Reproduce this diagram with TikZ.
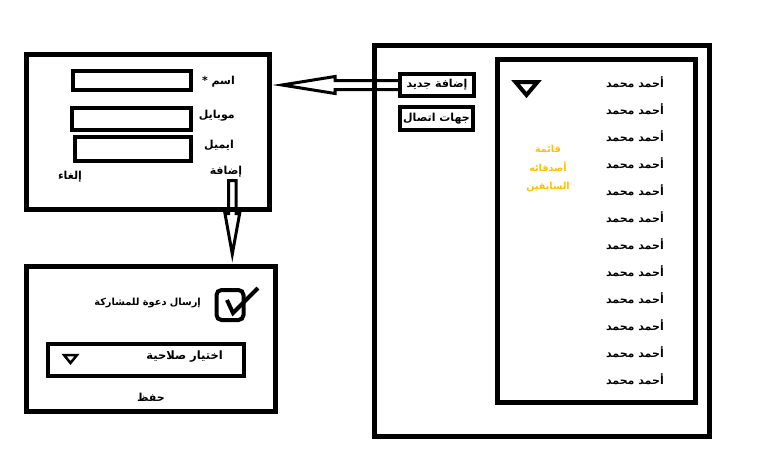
\documentclass[tikz,border=0pt]{standalone}
\usepackage{fontspec}
\newfontfamily\arabicfont[Script=Arabic]{DejaVu Sans}
\TeXXeTstate=1
\usetikzlibrary{arrows.meta,calc,positioning}
\definecolor{gold}{RGB}{255,192,0}
\newcommand\rtl[1]{\beginR#1\endR}
\tikzset{
  box/.style={draw, line width=5pt, inner sep=0pt},
  field/.style={draw, line width=4pt, inner sep=0pt},
  btn/.style={draw, line width=4pt, inner sep=0pt, font=\arabicfont\bfseries\fontsize{11}{12}\selectfont},
  lbl/.style={inner sep=0pt, font=\arabicfont\bfseries\fontsize{11}{12}\selectfont},
  hollow/.style={line width=3pt, line join=miter},
}

\begin{document}
\begin{tikzpicture}[x=1pt, y=-1pt]
  \useasboundingbox (0,0) rectangle (774,466);

  \newcommand\Gap{27};

  % new contact form
  \node[box, minimum width=242.5pt, minimum height=155pt] (form) at (147.75,131.5) {};
  \node[field, minimum width=118pt, minimum height=19pt] (fname) at (132,80.5) {};
  \node[field, minimum width=119pt, minimum height=22pt] (fmobile) at (131.5,119) {};
  \node[field, minimum width=116pt, minimum height=24pt] (femail) at (133,149) {};
  \node[lbl, anchor=east] (lname) at (235,82) {\rtl{اسم *}};
  \node[lbl, anchor=east] (lmobile) at (235,116) {\rtl{موبايل}};
  \node[lbl, anchor=east] (lemail) at (234,145) {\rtl{ايميل}};
  \node[lbl] (add) at (226,172) {\rtl{إضافة}};
  \node[lbl] (cancel) at (70,177) {\rtl{إلغاء}};

  % invite form
  \node[box, minimum width=248.5pt, minimum height=145pt] (invite) at (150.75,339) {};
  \node[draw, line width=4pt, rounded corners=5pt, inner sep=0pt,
        minimum width=27pt, minimum height=30pt] (chk) at (230,305) {};
  \draw[line width=4pt] ($(chk.center)+(-3,-5)$)--($(chk.center)+(3,8)$)--($(chk.center)+(28,-17)$);
  \node[lbl, anchor=east, font=\arabicfont\bfseries\fontsize{9.8}{12}\selectfont] (invtxt) at (201,303) {\rtl{إرسال دعوة للمشاركة}};
  \node[field, minimum width=196pt, minimum height=32pt] (role) at (146,359.5) {};
  \draw[line width=2.5pt, line join=miter]
    ($(role.west)+(18,-4.5)$)--($(role.west)+(31,-4.5)$)--($(role.west)+(24.5,3.5)$)--cycle;
  \node[lbl, anchor=east, font=\arabicfont\bfseries\fontsize{11.5}{12}\selectfont] (roletxt) at (223,357) {\rtl{اختيار صلاحية}};
  \node[lbl] (save) at (151,397) {\rtl{حفظ}};

  % contacts screen
  \node[box, minimum width=335pt, minimum height=391pt] (panel) at (542,240.5) {};
  \node[box, minimum width=198pt, minimum height=343pt] (list) at (596,230.5) {};
  \node[btn, minimum width=74pt, minimum height=22pt] (newc) at (437,85) {\rtl{إضافة جديد}};
  \node[btn, minimum width=73pt, minimum height=23pt] (contacts) at (436.5,118.5) {\rtl{جهات اتصال}};
  \draw[line width=4pt, line join=miter]
    ($(list.north west)+(21,25.5)$)--($(list.north west)+(43,25.5)$)--($(list.north west)+(32,38.5)$)--cycle;
  \node[lbl, text=gold, align=center, font=\arabicfont\bfseries\fontsize{9.6}{18.5}\selectfont]
    (prev) at (548,169) {\rtl{قائمة}\\\rtl{أصدقائه}\\\rtl{السابقين}};

  \node[lbl, anchor=east] (n1) at (664, 82+0*\Gap) {\rtl{أحمد محمد}};
  \node[lbl, anchor=east] (n2) at (664, 82+1*\Gap) {\rtl{أحمد محمد}};
  \node[lbl, anchor=east] (n3) at (664, 82+2*\Gap) {\rtl{أحمد محمد}};
  \node[lbl, anchor=east] (n4) at (664, 82+3*\Gap) {\rtl{أحمد محمد}};
  \node[lbl, anchor=east] (n5) at (664, 82+4*\Gap) {\rtl{أحمد محمد}};
  \node[lbl, anchor=east] (n6) at (664, 82+5*\Gap) {\rtl{أحمد محمد}};
  \node[lbl, anchor=east] (n7) at (664, 82+6*\Gap) {\rtl{أحمد محمد}};
  \node[lbl, anchor=east] (n8) at (664, 82+7*\Gap) {\rtl{أحمد محمد}};
  \node[lbl, anchor=east] (n9) at (664, 82+8*\Gap) {\rtl{أحمد محمد}};
  \node[lbl, anchor=east] (n10) at (664, 82+9*\Gap) {\rtl{أحمد محمد}};
  \node[lbl, anchor=east] (n11) at (664, 82+10*\Gap) {\rtl{أحمد محمد}};
  \node[lbl, anchor=east] (n12) at (664, 82+11*\Gap) {\rtl{أحمد محمد}};

  % hollow arrows
  \coordinate (tipl) at ($(form.east |- newc.west)+(10.5,0)$);
  \draw[hollow] ($(newc.west)+(0,-4.5)$)--($(tipl)+(53,-4.5)$)--++(0,-4)--(tipl)
    --($(tipl)+(53,8.5)$)--++(0,-4)--($(newc.west)+(0,4.5)$);
  \coordinate (dn) at ($(add.south)+(6.3,3)$);
  \coordinate (tipd) at ($(dn |- invite.north)+(0,-10)$);
  \draw[hollow] ($(dn)+(-3.8,0)$)--++(0,33)--++(-3.5,0)--(tipd)
    --($(dn)+(7.3,33)$)--++(-3.5,0)--++(0,-33)--cycle;
\end{tikzpicture}
\end{document}
